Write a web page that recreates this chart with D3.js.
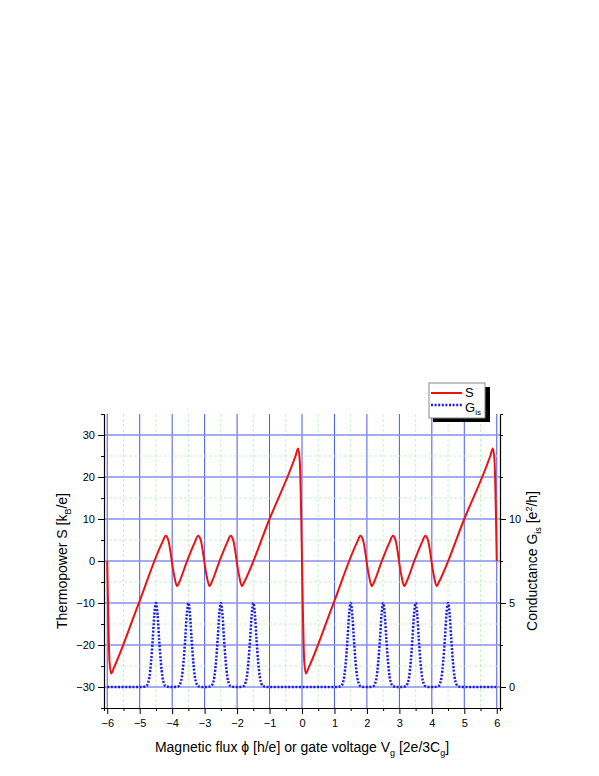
<!DOCTYPE html><html><head><meta charset="utf-8"><script src="https://cdn.jsdelivr.net/npm/d3@7"></script>
<style>body{margin:0;background:#fff}text{font-family:Arial,"Liberation Sans",sans-serif}</style></head><body>
<svg id="c" width="599" height="776"></svg>
<script>
const sX=[-6,-5.93,-5.88,-5.8,-5.05,-4.3,-4.2,-4.12,-3.95,-3.85,-3.78,-3.55,-3.3,-3.2,-3.12,-2.95,-2.85,-2.78,-2.55,-2.3,-2.2,-2.12,-1.95,-1.85,-1.78,-1,-0.2,-0.12,-0.07,
 0.07,0.12,0.2,0.95,1.7,1.8,1.88,2.05,2.15,2.22,2.45,2.7,2.8,2.88,3.05,3.15,3.22,3.45,3.7,3.8,3.88,4.05,4.15,4.22,5,5.8,5.88,5.93,6];
const sY=[0,-24,-26.8,-25.5,-10.5,4.5,6,5,-3,-6,-5,-0.2,4.5,6,5,-3,-6,-5,-0.2,4.5,6,5,-3,-6,-5,10,25,26.8,24,
 -24,-26.8,-25.5,-10.5,4.5,6,5,-3,-6,-5,-0.2,4.5,6,5,-3,-6,-5,-0.2,4.5,6,5,-3,-6,-5,10,25,26.8,24,0];
const peaks=[-4.5,-3.5,-2.5,-1.5,1.5,2.5,3.5,4.5];
const pkOff=[-0.45,-0.3,-0.25,-0.2,-0.15,-0.1,-0.05,0,0.05,0.1,0.15,0.2,0.25,0.3,0.45];
const pkVal=[0,0.05,0.2,0.6,1.5,2.8,4.3,5,4.3,2.8,1.5,0.6,0.2,0.05,0];
const xTicks=[-6,-5,-4,-3,-2,-1,0,1,2,3,4,5,6];
const yTicks=[-30,-20,-10,0,10,20,30];
const gTicks=[0,5,10];

const svg=d3.select("#c");
const L=104,R=500,T=414,B=708;
const x=d3.scaleLinear([-6.1,6.1],[L,R]);
const y=d3.scaleLinear([-35,35],[B,T]);
const g2=d3.scaleLinear([-1.25,16.25],[B,T]);
const grid=svg.append("g");
d3.range(-6,6.01,0.5).forEach(v=>{const maj=Number.isInteger(v);
 grid.append("line").attr("x1",x(v)).attr("x2",x(v)).attr("y1",T).attr("y2",B)
 .attr("stroke",maj?"#3344ee":"#b8f0b8").attr("stroke-width",maj?0.9:0.8).attr("stroke-dasharray",maj?null:"3,2");});
d3.range(-30,30.01,5).forEach(v=>{const maj=v%10===0;
 grid.append("line").attr("x1",L).attr("x2",R).attr("y1",y(v)).attr("y2",y(v))
 .attr("stroke",maj?"#8890ee":"#b8f0b8").attr("stroke-width",maj?1.4:0.8).attr("stroke-dasharray",maj?null:"3,2");});
svg.append("g").attr("transform",`translate(0,${B})`).call(d3.axisBottom(x).tickValues(xTicks).tickSize(6).tickSizeOuter(0)).call(a=>{a.select(".domain").attr("stroke-width",1.2);a.selectAll("text").attr("font-size",11).attr("dy","0.9em");});
svg.append("g").attr("transform",`translate(0,${B})`).call(d3.axisBottom(x).tickValues(d3.range(-5.5,6,1)).tickSize(3).tickFormat(""));
svg.append("g").attr("transform",`translate(${L},0)`).call(d3.axisLeft(y).tickValues(yTicks).tickSize(6).tickSizeOuter(0)).call(a=>{a.select(".domain").attr("stroke-width",1.2);a.selectAll("text").attr("font-size",11);});
svg.append("g").attr("transform",`translate(${L},0)`).call(d3.axisLeft(y).tickValues([-25,-15,-5,5,15,25]).tickSize(3).tickFormat(""));
svg.append("g").attr("transform",`translate(${R},0)`).call(d3.axisRight(g2).tickValues(gTicks).tickSize(6).tickSizeOuter(0)).call(a=>{a.select(".domain").attr("stroke-width",1.2);a.selectAll("text").attr("font-size",11);});
svg.append("g").attr("transform",`translate(${R},0)`).call(d3.axisRight(g2).tickValues([2.5,7.5,12.5,15]).tickSize(3).tickFormat(""));
const gpts=[[-6,0]];
peaks.forEach(p=>pkOff.forEach((o,i)=>gpts.push([p+o,pkVal[i]])));
gpts.push([6,0]);
svg.append("path").attr("d",d3.line().x(d=>x(d[0])).y(d=>g2(d[1])).curve(d3.curveMonotoneX)(gpts))
 .attr("fill","none").attr("stroke","#1a1aee").attr("stroke-width",2.5).attr("stroke-dasharray","2,1.6");
svg.append("path").attr("d",d3.line().x((d,i)=>x(sX[i])).y(d=>y(d)).curve(d3.curveMonotoneX)(sY))
 .attr("fill","none").attr("stroke","#ee1111").attr("stroke-width",2);
svg.append("text").attr("x",302).attr("y",752).attr("text-anchor","middle").attr("font-size",14)
 .html('Magnetic flux ϕ [h/e] or gate voltage V<tspan font-size="9" dy="4">g</tspan><tspan dy="-4"> [2e/3C</tspan><tspan font-size="9" dy="4">g</tspan><tspan dy="-4">]</tspan>');
svg.append("text").attr("transform","translate(67,561) rotate(-90)").attr("text-anchor","middle").attr("font-size",14)
 .html('Thermopower S [k<tspan font-size="9" dy="4">B</tspan><tspan dy="-4">/e]</tspan>');
svg.append("text").attr("transform","translate(537,561) rotate(-90)").attr("text-anchor","middle").attr("font-size",14)
 .html('Conductance G<tspan font-size="9" dy="4">is</tspan><tspan dy="-4"> [e</tspan><tspan font-size="9" dy="-5">2</tspan><tspan dy="5">/h]</tspan>');
const lg=svg.append("g");
lg.append("rect").attr("x",433).attr("y",387).attr("width",57).attr("height",35).attr("fill","#000");
lg.append("rect").attr("x",429).attr("y",383).attr("width",56).attr("height",35).attr("fill","#fff").attr("stroke","#888");
lg.append("line").attr("x1",431).attr("x2",462).attr("y1",393).attr("y2",393).attr("stroke","#ee1111").attr("stroke-width",2);
lg.append("line").attr("x1",431).attr("x2",462).attr("y1",405).attr("y2",405).attr("stroke","#1a1aee").attr("stroke-width",2.5).attr("stroke-dasharray","2,1.6");
lg.append("text").attr("x",465).attr("y",397).attr("font-size",13).text("S");
lg.append("text").attr("x",465).attr("y",412).attr("font-size",13).html('G<tspan font-size="8" dy="3">is</tspan>');
</script></body></html>
